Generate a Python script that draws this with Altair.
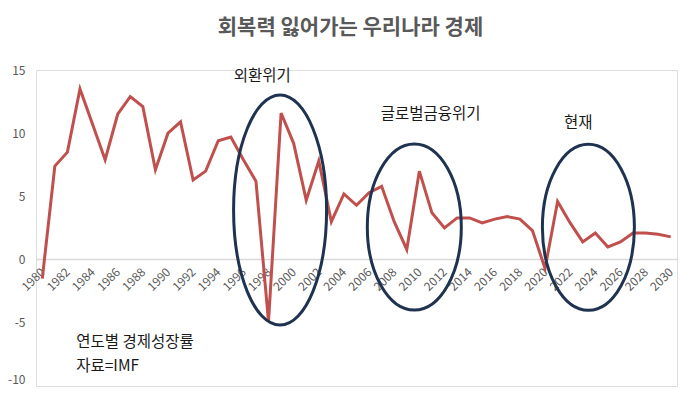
import altair as alt
import pandas as pd

# ---- data ----
years = list(range(1980, 2031))
growth = [
    -1.5, 7.4, 8.5, 13.5, 10.7, 7.9, 11.5, 12.9, 12.1, 7.1,   # 1980-1989
    10.0, 10.9, 6.3, 7.0, 9.4, 9.7, 7.9, 6.2, -4.9, 11.6,     # 1990-1999
    9.2, 4.7, 7.8, 3.0, 5.2, 4.3, 5.3, 5.8, 3.0, 0.8,         # 2000-2009
    7.0, 3.7, 2.5, 3.3, 3.3, 2.9, 3.2, 3.4, 3.2, 2.3,         # 2010-2019
    -0.7, 4.6, 2.9, 1.4, 2.1, 1.0, 1.4, 2.1, 2.1, 2.0,        # 2020-2029
    1.8,                                                       # 2030
]
x_tick_years = list(range(1980, 2031, 2))
y_ticks = [-10, -5, 0, 5, 10, 15]

title_text = "회복력 잃어가는 우리나라 경제"
label_texts = ["외환위기", "글로벌금융위기", "현재"]
label_years = [1997.5, 2010.9, 2022.65]
label_values = [14.5, 11.5, 10.8]

ellipse_years = [1998.92, 2009.6, 2023.45]
ellipse_values = [3.92, 2.58, 2.55]
ellipse_rx = [46.5, 47, 46]      # pixel half-widths
ellipse_ry = [115, 83, 83]       # pixel half-heights

caption_texts = ["연도별 경제성장률", "자료=IMF"]
caption_years = [1982.7, 1982.7]
caption_values = [-6.52, -8.45]

FONT = "Noto Sans CJK KR"
W, H = 641, 316

df = pd.DataFrame({"year": years, "growth": growth})
labels_df = pd.DataFrame({"year": label_years, "value": label_values, "text": label_texts})
captions_df = pd.DataFrame({"year": caption_years, "value": caption_values, "text": caption_texts})


def ellipse_path(rx, ry):
    return (f"M {-rx} 0 A {rx} {ry} 0 1 0 {rx} 0 "
            f"A {rx} {ry} 0 1 0 {-rx} 0 Z")


ell_df = pd.DataFrame({
    "year": ellipse_years,
    "value": ellipse_values,
    "path": [ellipse_path(a, b) for a, b in zip(ellipse_rx, ellipse_ry)],
})

xscale = alt.Scale(domain=[1979.5, 2030.5], nice=False, zero=False)
yscale = alt.Scale(domain=[-10, 15], nice=False, zero=False)

xaxis = alt.Axis(
    values=x_tick_years, format="d", labelAngle=315, labelAlign="right",
    labelBaseline="middle", offset=-126.4, domain=False, ticks=False, grid=False,
    labelColor="#595959", labelFontSize=12, labelFont=FONT, labelPadding=10,
    labelFlush=False, labelOverlap=False, title=None,
)
yaxis = alt.Axis(
    values=y_ticks, domain=False, ticks=False, grid=False,
    labelExpr="'' + datum.value",
    labelColor="#595959", labelFontSize=12, labelFont=FONT, labelPadding=11,
    labelBaseline={"condition": {"test": "datum.value == -10", "value": "bottom"},
                   "value": "middle"},
    title=None,
)

base_x = lambda f: alt.X(f, type="quantitative", scale=xscale, axis=xaxis)
base_y = lambda f: alt.Y(f, type="quantitative", scale=yscale, axis=yaxis)

zero_rule = alt.Chart(pd.DataFrame({"z": [0]})).mark_rule(
    color="#d9d9d9", strokeWidth=1.5
).encode(y=base_y("z"))

line = alt.Chart(df).mark_line(color="#c0504d", strokeWidth=3).encode(
    x=base_x("year"), y=base_y("growth")
)

ellipses = alt.Chart(ell_df).mark_point(
    filled=False, stroke="#1f3350", strokeWidth=3, opacity=1, size=4
).encode(
    x=base_x("year"), y=base_y("value"),
    shape=alt.Shape("path:N", scale=None, legend=None),
)

labels = alt.Chart(labels_df).mark_text(
    font=FONT, fontSize=15.5, color="#1a1a1a", align="center", baseline="middle"
).encode(x=base_x("year"), y=base_y("value"), text="text:N")

captions = alt.Chart(captions_df).mark_text(
    font=FONT, fontSize=15.5, color="#1a1a1a", align="left", baseline="middle"
).encode(x=base_x("year"), y=base_y("value"), text="text:N")

chart = alt.layer(zero_rule, line, ellipses, labels, captions).properties(
    width=W, height=H,
    title=alt.TitleParams(
        title_text, anchor="middle", font=FONT, fontSize=21, fontWeight="bold",
        color="#595959", dx=-6, offset=26,
    ),
    autosize=alt.AutoSizeParams(type="none"),
    padding={"left": 28, "top": 62, "right": 15, "bottom": 2},
).configure_view(stroke=None).configure(background="white")

chart.save("out.html", embed_options={"renderer": "svg", "actions": False})
